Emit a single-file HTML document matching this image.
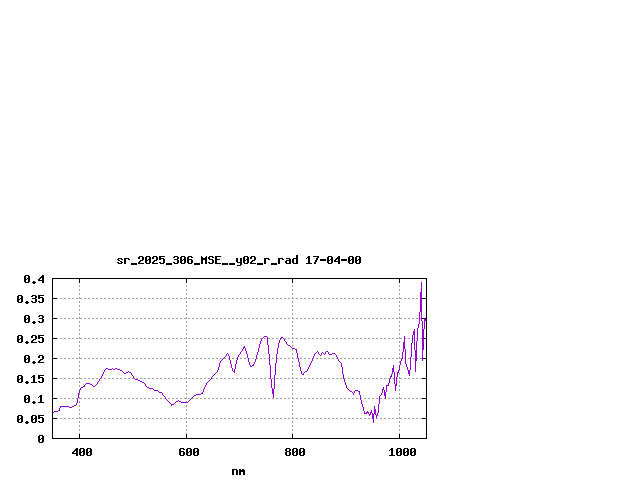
<!DOCTYPE html>
<html lang="en">
<head>
<meta charset="utf-8">
<title>sr_2025_306_MSE__y02_r_rad 17-04-00</title>
<style>
html,body{margin:0;padding:0;background:#fff;}
body{width:640px;height:480px;overflow:hidden;font-family:"Liberation Mono",monospace;}
svg{display:block;position:absolute;left:0;top:0;}
.lbl{font-family:"Liberation Mono",monospace;font-weight:bold;font-size:11.6px;fill:#000;fill-opacity:0;}
</style>
</head>
<body>
<svg width="640" height="480" viewBox="0 0 640 480" shape-rendering="crispEdges" role="img" aria-label="Spectral radiance plot">
<rect x="0" y="0" width="640" height="480" fill="#ffffff"/>
<g id="grid" stroke="#a0a0a0" stroke-width="1" stroke-dasharray="2 2" fill="none">
<line x1="52" y1="298.5" x2="427" y2="298.5"/>
<line x1="52" y1="318.5" x2="427" y2="318.5"/>
<line x1="52" y1="338.5" x2="427" y2="338.5"/>
<line x1="52" y1="358.5" x2="427" y2="358.5"/>
<line x1="52" y1="378.5" x2="427" y2="378.5"/>
<line x1="52" y1="398.5" x2="427" y2="398.5"/>
<line x1="52" y1="418.5" x2="427" y2="418.5"/>
<line x1="79.5" y1="439" x2="79.5" y2="278"/>
<line x1="186.5" y1="439" x2="186.5" y2="278"/>
<line x1="292.5" y1="439" x2="292.5" y2="278"/>
<line x1="399.5" y1="439" x2="399.5" y2="278"/>
</g>
<g id="axes" fill="#000000">
<path d="M52 278h375v161h-375z M53 279v159h373v-159z" fill-rule="evenodd"/>
<path d="M53 278h4v1h-4zM422 278h4v1h-4zM53 298h4v1h-4zM422 298h4v1h-4zM53 318h4v1h-4zM422 318h4v1h-4zM53 338h4v1h-4zM422 338h4v1h-4zM53 358h4v1h-4zM422 358h4v1h-4zM53 378h4v1h-4zM422 378h4v1h-4zM53 398h4v1h-4zM422 398h4v1h-4zM53 418h4v1h-4zM422 418h4v1h-4zM53 438h4v1h-4zM422 438h4v1h-4zM79 434h1v4h-1zM79 279h1v4h-1zM186 434h1v4h-1zM186 279h1v4h-1zM292 434h1v4h-1zM292 279h1v4h-1zM399 434h1v4h-1zM399 279h1v4h-1z"/>
</g>
<path id="curve" fill="#9400d3" d="M53 412h1v1h-1zM54 411h4v1h-4zM58 410h1v1h-1zM59 408h1v3h-1zM60 406h1v2h-1zM61 406h8v1h-8zM69 407h3v1h-3zM72 406h2v1h-2zM74 405h2v1h-2zM76 403h1v2h-1zM77 398h1v5h-1zM78 393h1v5h-1zM79 390h1v3h-1zM80 388h1v2h-1zM81 387h2v1h-2zM83 386h1v1h-1zM84 385h1v2h-1zM85 384h1v1h-1zM86 383h4v1h-4zM90 384h2v1h-2zM92 385h1v1h-1zM93 386h2v1h-2zM95 385h1v1h-1zM96 384h1v1h-1zM97 382h1v2h-1zM98 381h1v1h-1zM99 379h1v2h-1zM100 378h1v1h-1zM101 376h1v2h-1zM102 374h1v2h-1zM103 372h1v2h-1zM104 370h1v2h-1zM105 369h1v1h-1zM106 368h2v1h-2zM108 369h4v1h-4zM112 368h1v1h-1zM113 369h2v1h-2zM115 368h2v1h-2zM117 369h3v1h-3zM120 370h2v1h-2zM122 371h1v1h-1zM123 372h1v1h-1zM124 373h2v1h-2zM126 372h2v1h-2zM128 371h1v1h-1zM129 372h2v1h-2zM131 373h1v2h-1zM132 375h1v1h-1zM133 376h1v2h-1zM134 378h1v1h-1zM135 379h3v1h-3zM138 380h2v1h-2zM140 381h2v1h-2zM142 382h2v1h-2zM144 383h1v1h-1zM145 384h1v2h-1zM146 386h1v1h-1zM147 387h2v1h-2zM149 388h4v1h-4zM153 389h1v1h-1zM154 390h4v1h-4zM158 391h1v1h-1zM159 392h3v1h-3zM162 393h1v2h-1zM163 395h1v1h-1zM164 396h1v1h-1zM165 397h1v2h-1zM166 399h1v1h-1zM167 400h1v1h-1zM168 401h1v1h-1zM169 402h1v1h-1zM170 403h1v1h-1zM171 404h1v2h-1zM172 404h2v1h-2zM174 403h1v1h-1zM175 402h1v1h-1zM176 401h2v1h-2zM178 400h1v1h-1zM179 401h2v1h-2zM181 402h7v1h-7zM188 401h1v1h-1zM189 400h1v1h-1zM190 399h1v1h-1zM191 398h1v1h-1zM192 397h1v1h-1zM193 396h1v1h-1zM194 395h2v1h-2zM196 394h5v1h-5zM201 393h1v1h-1zM202 392h1v2h-1zM203 389h1v3h-1zM204 387h1v2h-1zM205 385h1v2h-1zM206 383h1v2h-1zM207 382h1v1h-1zM208 381h1v1h-1zM209 380h1v1h-1zM210 379h1v1h-1zM211 377h1v2h-1zM212 376h1v1h-1zM213 375h1v1h-1zM214 374h1v1h-1zM215 373h1v1h-1zM216 372h1v1h-1zM217 370h1v2h-1zM218 367h1v3h-1zM219 363h1v4h-1zM220 361h1v2h-1zM221 360h1v1h-1zM222 359h1v1h-1zM223 358h1v1h-1zM224 357h1v1h-1zM225 356h1v1h-1zM226 354h1v2h-1zM227 353h1v1h-1zM228 354h1v2h-1zM229 356h1v4h-1zM230 360h1v4h-1zM231 364h1v4h-1zM232 368h1v3h-1zM233 371h1v1h-1zM234 369h1v4h-1zM235 364h1v5h-1zM236 360h1v4h-1zM237 357h1v3h-1zM238 355h1v2h-1zM239 354h1v1h-1zM240 352h1v2h-1zM241 351h1v1h-1zM242 349h1v2h-1zM243 347h1v2h-1zM244 346h1v2h-1zM245 348h1v3h-1zM246 351h1v3h-1zM247 354h1v4h-1zM248 358h1v4h-1zM249 362h1v3h-1zM250 365h1v2h-1zM251 366h1v1h-1zM252 365h1v1h-1zM253 364h1v2h-1zM254 362h1v2h-1zM255 359h1v3h-1zM256 355h1v4h-1zM257 352h1v3h-1zM258 348h1v4h-1zM259 344h1v4h-1zM260 341h1v3h-1zM261 339h1v2h-1zM262 338h1v1h-1zM263 337h1v1h-1zM264 336h3v1h-3zM267 337h1v8h-1zM268 345h1v9h-1zM269 354h1v11h-1zM270 365h1v14h-1zM271 379h1v9h-1zM272 388h1v6h-1zM273 389h1v9h-1zM274 375h1v14h-1zM275 363h1v12h-1zM276 354h1v9h-1zM277 348h1v6h-1zM278 343h1v5h-1zM279 340h1v3h-1zM280 338h1v2h-1zM281 337h2v1h-2zM283 338h1v1h-1zM284 339h1v2h-1zM285 341h1v1h-1zM286 342h1v2h-1zM287 344h1v1h-1zM288 345h2v1h-2zM290 346h1v1h-1zM291 347h1v1h-1zM292 348h3v1h-3zM295 349h1v1h-1zM296 349h1v4h-1zM297 353h1v5h-1zM298 358h1v4h-1zM299 362h1v5h-1zM300 367h1v4h-1zM301 371h1v3h-1zM302 374h1v1h-1zM303 373h1v2h-1zM304 372h1v1h-1zM305 371h2v1h-2zM307 369h1v2h-1zM308 367h1v2h-1zM309 365h1v2h-1zM310 363h1v2h-1zM311 361h1v2h-1zM312 358h1v3h-1zM313 356h1v2h-1zM314 354h1v2h-1zM315 353h1v1h-1zM316 352h1v1h-1zM317 351h1v1h-1zM318 352h1v2h-1zM319 354h1v1h-1zM320 355h1v1h-1zM321 353h1v2h-1zM322 352h1v1h-1zM323 353h1v1h-1zM324 354h1v1h-1zM325 352h1v2h-1zM326 351h2v1h-2zM328 352h1v2h-1zM329 354h3v1h-3zM332 353h3v1h-3zM335 354h1v1h-1zM336 355h1v2h-1zM337 357h1v2h-1zM338 359h1v2h-1zM339 361h1v1h-1zM340 362h1v1h-1zM341 363h1v4h-1zM342 367h1v7h-1zM343 374h1v5h-1zM344 379h1v3h-1zM345 382h1v3h-1zM346 385h1v3h-1zM347 388h1v1h-1zM348 389h1v1h-1zM349 390h1v1h-1zM350 391h2v1h-2zM352 392h1v1h-1zM353 393h1v2h-1zM354 391h1v2h-1zM355 390h3v1h-3zM358 391h1v1h-1zM359 391h1v4h-1zM360 395h1v5h-1zM361 400h1v4h-1zM362 404h1v3h-1zM363 407h1v4h-1zM364 411h1v3h-1zM365 413h1v1h-1zM366 412h1v2h-1zM367 411h1v2h-1zM368 412h1v2h-1zM369 414h1v2h-1zM370 412h1v3h-1zM371 410h1v3h-1zM372 413h1v6h-1zM373 414h1v9h-1zM374 406h1v8h-1zM375 409h1v6h-1zM376 415h1v3h-1zM377 413h1v3h-1zM378 404h1v9h-1zM379 396h1v8h-1zM380 395h1v1h-1zM381 393h1v2h-1zM382 389h1v4h-1zM383 387h1v3h-1zM384 390h1v6h-1zM385 392h1v7h-1zM386 385h1v7h-1zM387 385h1v1h-1zM388 383h1v3h-1zM389 379h1v4h-1zM390 376h1v3h-1zM391 374h1v3h-1zM392 368h1v6h-1zM393 365h1v7h-1zM394 372h1v12h-1zM395 384h1v7h-1zM396 377h1v9h-1zM397 372h1v5h-1zM398 370h1v3h-1zM399 365h1v5h-1zM400 361h1v4h-1zM401 359h1v2h-1zM402 352h1v7h-1zM403 342h1v10h-1zM404 336h1v13h-1zM405 349h1v15h-1zM406 364h1v3h-1zM407 367h1v3h-1zM408 370h1v4h-1zM409 370h1v6h-1zM410 357h1v13h-1zM411 343h1v14h-1zM412 335h1v8h-1zM413 331h1v4h-1zM414 329h1v21h-1zM415 350h1v22h-1zM416 341h1v20h-1zM417 328h1v13h-1zM418 324h1v4h-1zM419 312h1v12h-1zM420 292h1v20h-1zM421 282h1v39h-1zM422 321h1v40h-1zM423 329h1v21h-1zM424 318h1v11h-1zM425 319h1v2h-1z"/>
<g id="labels" fill="#000000">
<path d="M118 258h4v1h-4zM117 259h2v1h-2zM121 259h2v1h-2zM118 260h2v1h-2zM120 261h2v1h-2zM117 262h2v1h-2zM121 262h2v1h-2zM118 263h4v1h-4zM124 258h5v1h-5zM124 259h2v1h-2zM128 259h2v1h-2zM124 260h2v1h-2zM124 261h2v1h-2zM124 262h2v1h-2zM124 263h2v1h-2zM131 263h6v1h-6zM131 264h6v1h-6zM139 256h4v1h-4zM138 257h2v1h-2zM142 257h2v1h-2zM138 258h2v1h-2zM142 258h2v1h-2zM142 259h2v1h-2zM140 260h3v1h-3zM139 261h2v1h-2zM138 262h2v1h-2zM138 263h6v1h-6zM146 256h4v1h-4zM145 257h2v1h-2zM149 257h2v1h-2zM145 258h2v1h-2zM149 258h2v1h-2zM145 259h2v1h-2zM148 259h3v1h-3zM145 260h3v1h-3zM149 260h2v1h-2zM145 261h2v1h-2zM149 261h2v1h-2zM145 262h2v1h-2zM149 262h2v1h-2zM146 263h4v1h-4zM153 256h4v1h-4zM152 257h2v1h-2zM156 257h2v1h-2zM152 258h2v1h-2zM156 258h2v1h-2zM156 259h2v1h-2zM154 260h3v1h-3zM153 261h2v1h-2zM152 262h2v1h-2zM152 263h6v1h-6zM159 256h6v1h-6zM159 257h2v1h-2zM159 258h5v1h-5zM159 259h2v1h-2zM163 259h2v1h-2zM163 260h2v1h-2zM163 261h2v1h-2zM159 262h2v1h-2zM163 262h2v1h-2zM160 263h4v1h-4zM166 263h6v1h-6zM166 264h6v1h-6zM174 256h4v1h-4zM173 257h2v1h-2zM177 257h2v1h-2zM177 258h2v1h-2zM174 259h4v1h-4zM177 260h2v1h-2zM177 261h2v1h-2zM173 262h2v1h-2zM177 262h2v1h-2zM174 263h4v1h-4zM181 256h4v1h-4zM180 257h2v1h-2zM184 257h2v1h-2zM180 258h2v1h-2zM184 258h2v1h-2zM180 259h2v1h-2zM183 259h3v1h-3zM180 260h3v1h-3zM184 260h2v1h-2zM180 261h2v1h-2zM184 261h2v1h-2zM180 262h2v1h-2zM184 262h2v1h-2zM181 263h4v1h-4zM188 256h4v1h-4zM187 257h2v1h-2zM191 257h2v1h-2zM187 258h2v1h-2zM187 259h5v1h-5zM187 260h2v1h-2zM191 260h2v1h-2zM187 261h2v1h-2zM191 261h2v1h-2zM187 262h2v1h-2zM191 262h2v1h-2zM188 263h4v1h-4zM194 263h6v1h-6zM194 264h6v1h-6zM201 256h1v1h-1zM206 256h1v1h-1zM201 257h2v1h-2zM205 257h2v1h-2zM201 258h6v1h-6zM201 259h6v1h-6zM201 260h2v1h-2zM205 260h2v1h-2zM201 261h2v1h-2zM205 261h2v1h-2zM201 262h2v1h-2zM205 262h2v1h-2zM201 263h2v1h-2zM205 263h2v1h-2zM209 256h4v1h-4zM208 257h2v1h-2zM212 257h2v1h-2zM208 258h2v1h-2zM209 259h4v1h-4zM212 260h2v1h-2zM212 261h2v1h-2zM208 262h2v1h-2zM212 262h2v1h-2zM209 263h4v1h-4zM215 256h6v1h-6zM215 257h2v1h-2zM215 258h2v1h-2zM215 259h5v1h-5zM215 260h2v1h-2zM215 261h2v1h-2zM215 262h2v1h-2zM215 263h6v1h-6zM222 263h6v1h-6zM222 264h6v1h-6zM229 263h6v1h-6zM229 264h6v1h-6zM236 258h2v1h-2zM240 258h2v1h-2zM236 259h2v1h-2zM240 259h2v1h-2zM236 260h2v1h-2zM240 260h2v1h-2zM236 261h2v1h-2zM240 261h2v1h-2zM237 262h5v1h-5zM240 263h2v1h-2zM240 264h2v1h-2zM237 265h4v1h-4zM244 256h4v1h-4zM243 257h2v1h-2zM247 257h2v1h-2zM243 258h2v1h-2zM247 258h2v1h-2zM243 259h2v1h-2zM246 259h3v1h-3zM243 260h3v1h-3zM247 260h2v1h-2zM243 261h2v1h-2zM247 261h2v1h-2zM243 262h2v1h-2zM247 262h2v1h-2zM244 263h4v1h-4zM251 256h4v1h-4zM250 257h2v1h-2zM254 257h2v1h-2zM250 258h2v1h-2zM254 258h2v1h-2zM254 259h2v1h-2zM252 260h3v1h-3zM251 261h2v1h-2zM250 262h2v1h-2zM250 263h6v1h-6zM257 263h6v1h-6zM257 264h6v1h-6zM264 258h5v1h-5zM264 259h2v1h-2zM268 259h2v1h-2zM264 260h2v1h-2zM264 261h2v1h-2zM264 262h2v1h-2zM264 263h2v1h-2zM271 263h6v1h-6zM271 264h6v1h-6zM278 258h5v1h-5zM278 259h2v1h-2zM282 259h2v1h-2zM278 260h2v1h-2zM278 261h2v1h-2zM278 262h2v1h-2zM278 263h2v1h-2zM286 258h4v1h-4zM289 259h2v1h-2zM286 260h5v1h-5zM285 261h2v1h-2zM289 261h2v1h-2zM285 262h2v1h-2zM289 262h2v1h-2zM286 263h5v1h-5zM296 255h2v1h-2zM296 256h2v1h-2zM296 257h2v1h-2zM293 258h5v1h-5zM292 259h2v1h-2zM296 259h2v1h-2zM292 260h2v1h-2zM296 260h2v1h-2zM292 261h2v1h-2zM296 261h2v1h-2zM292 262h2v1h-2zM296 262h2v1h-2zM293 263h5v1h-5zM308 256h2v1h-2zM307 257h3v1h-3zM306 258h1v1h-1zM308 258h2v1h-2zM308 259h2v1h-2zM308 260h2v1h-2zM308 261h2v1h-2zM308 262h2v1h-2zM306 263h6v1h-6zM313 256h6v1h-6zM317 257h2v1h-2zM316 258h2v1h-2zM316 259h2v1h-2zM315 260h2v1h-2zM315 261h2v1h-2zM314 262h2v1h-2zM314 263h2v1h-2zM320 259h6v1h-6zM320 260h6v1h-6zM328 256h4v1h-4zM327 257h2v1h-2zM331 257h2v1h-2zM327 258h2v1h-2zM331 258h2v1h-2zM327 259h2v1h-2zM330 259h3v1h-3zM327 260h3v1h-3zM331 260h2v1h-2zM327 261h2v1h-2zM331 261h2v1h-2zM327 262h2v1h-2zM331 262h2v1h-2zM328 263h4v1h-4zM338 256h2v1h-2zM337 257h3v1h-3zM336 258h4v1h-4zM335 259h2v1h-2zM338 259h2v1h-2zM334 260h2v1h-2zM338 260h2v1h-2zM334 261h6v1h-6zM338 262h2v1h-2zM338 263h2v1h-2zM341 259h6v1h-6zM341 260h6v1h-6zM349 256h4v1h-4zM348 257h2v1h-2zM352 257h2v1h-2zM348 258h2v1h-2zM352 258h2v1h-2zM348 259h2v1h-2zM351 259h3v1h-3zM348 260h3v1h-3zM352 260h2v1h-2zM348 261h2v1h-2zM352 261h2v1h-2zM348 262h2v1h-2zM352 262h2v1h-2zM349 263h4v1h-4zM356 256h4v1h-4zM355 257h2v1h-2zM359 257h2v1h-2zM355 258h2v1h-2zM359 258h2v1h-2zM355 259h2v1h-2zM358 259h3v1h-3zM355 260h3v1h-3zM359 260h2v1h-2zM355 261h2v1h-2zM359 261h2v1h-2zM355 262h2v1h-2zM359 262h2v1h-2zM356 263h4v1h-4z"/>
<text class="lbl" x="117" y="264" xml:space="preserve">sr_2025_306_MSE__y02_r_rad 17-04-00</text>
<path d="M25 275h4v1h-4zM24 276h2v1h-2zM28 276h2v1h-2zM24 277h2v1h-2zM28 277h2v1h-2zM24 278h2v1h-2zM27 278h3v1h-3zM24 279h3v1h-3zM28 279h2v1h-2zM24 280h2v1h-2zM28 280h2v1h-2zM24 281h2v1h-2zM28 281h2v1h-2zM25 282h4v1h-4zM33 281h2v1h-2zM32 282h4v1h-4zM33 283h2v1h-2zM42 275h2v1h-2zM41 276h3v1h-3zM40 277h4v1h-4zM39 278h2v1h-2zM42 278h2v1h-2zM38 279h2v1h-2zM42 279h2v1h-2zM38 280h6v1h-6zM42 281h2v1h-2zM42 282h2v1h-2z"/>
<text class="lbl" x="24" y="283" xml:space="preserve">0.4</text>
<path d="M18 295h4v1h-4zM17 296h2v1h-2zM21 296h2v1h-2zM17 297h2v1h-2zM21 297h2v1h-2zM17 298h2v1h-2zM20 298h3v1h-3zM17 299h3v1h-3zM21 299h2v1h-2zM17 300h2v1h-2zM21 300h2v1h-2zM17 301h2v1h-2zM21 301h2v1h-2zM18 302h4v1h-4zM26 301h2v1h-2zM25 302h4v1h-4zM26 303h2v1h-2zM32 295h4v1h-4zM31 296h2v1h-2zM35 296h2v1h-2zM35 297h2v1h-2zM32 298h4v1h-4zM35 299h2v1h-2zM35 300h2v1h-2zM31 301h2v1h-2zM35 301h2v1h-2zM32 302h4v1h-4zM38 295h6v1h-6zM38 296h2v1h-2zM38 297h5v1h-5zM38 298h2v1h-2zM42 298h2v1h-2zM42 299h2v1h-2zM42 300h2v1h-2zM38 301h2v1h-2zM42 301h2v1h-2zM39 302h4v1h-4z"/>
<text class="lbl" x="17" y="303" xml:space="preserve">0.35</text>
<path d="M25 315h4v1h-4zM24 316h2v1h-2zM28 316h2v1h-2zM24 317h2v1h-2zM28 317h2v1h-2zM24 318h2v1h-2zM27 318h3v1h-3zM24 319h3v1h-3zM28 319h2v1h-2zM24 320h2v1h-2zM28 320h2v1h-2zM24 321h2v1h-2zM28 321h2v1h-2zM25 322h4v1h-4zM33 321h2v1h-2zM32 322h4v1h-4zM33 323h2v1h-2zM39 315h4v1h-4zM38 316h2v1h-2zM42 316h2v1h-2zM42 317h2v1h-2zM39 318h4v1h-4zM42 319h2v1h-2zM42 320h2v1h-2zM38 321h2v1h-2zM42 321h2v1h-2zM39 322h4v1h-4z"/>
<text class="lbl" x="24" y="323" xml:space="preserve">0.3</text>
<path d="M18 335h4v1h-4zM17 336h2v1h-2zM21 336h2v1h-2zM17 337h2v1h-2zM21 337h2v1h-2zM17 338h2v1h-2zM20 338h3v1h-3zM17 339h3v1h-3zM21 339h2v1h-2zM17 340h2v1h-2zM21 340h2v1h-2zM17 341h2v1h-2zM21 341h2v1h-2zM18 342h4v1h-4zM26 341h2v1h-2zM25 342h4v1h-4zM26 343h2v1h-2zM32 335h4v1h-4zM31 336h2v1h-2zM35 336h2v1h-2zM31 337h2v1h-2zM35 337h2v1h-2zM35 338h2v1h-2zM33 339h3v1h-3zM32 340h2v1h-2zM31 341h2v1h-2zM31 342h6v1h-6zM38 335h6v1h-6zM38 336h2v1h-2zM38 337h5v1h-5zM38 338h2v1h-2zM42 338h2v1h-2zM42 339h2v1h-2zM42 340h2v1h-2zM38 341h2v1h-2zM42 341h2v1h-2zM39 342h4v1h-4z"/>
<text class="lbl" x="17" y="343" xml:space="preserve">0.25</text>
<path d="M25 355h4v1h-4zM24 356h2v1h-2zM28 356h2v1h-2zM24 357h2v1h-2zM28 357h2v1h-2zM24 358h2v1h-2zM27 358h3v1h-3zM24 359h3v1h-3zM28 359h2v1h-2zM24 360h2v1h-2zM28 360h2v1h-2zM24 361h2v1h-2zM28 361h2v1h-2zM25 362h4v1h-4zM33 361h2v1h-2zM32 362h4v1h-4zM33 363h2v1h-2zM39 355h4v1h-4zM38 356h2v1h-2zM42 356h2v1h-2zM38 357h2v1h-2zM42 357h2v1h-2zM42 358h2v1h-2zM40 359h3v1h-3zM39 360h2v1h-2zM38 361h2v1h-2zM38 362h6v1h-6z"/>
<text class="lbl" x="24" y="363" xml:space="preserve">0.2</text>
<path d="M18 375h4v1h-4zM17 376h2v1h-2zM21 376h2v1h-2zM17 377h2v1h-2zM21 377h2v1h-2zM17 378h2v1h-2zM20 378h3v1h-3zM17 379h3v1h-3zM21 379h2v1h-2zM17 380h2v1h-2zM21 380h2v1h-2zM17 381h2v1h-2zM21 381h2v1h-2zM18 382h4v1h-4zM26 381h2v1h-2zM25 382h4v1h-4zM26 383h2v1h-2zM33 375h2v1h-2zM32 376h3v1h-3zM31 377h1v1h-1zM33 377h2v1h-2zM33 378h2v1h-2zM33 379h2v1h-2zM33 380h2v1h-2zM33 381h2v1h-2zM31 382h6v1h-6zM38 375h6v1h-6zM38 376h2v1h-2zM38 377h5v1h-5zM38 378h2v1h-2zM42 378h2v1h-2zM42 379h2v1h-2zM42 380h2v1h-2zM38 381h2v1h-2zM42 381h2v1h-2zM39 382h4v1h-4z"/>
<text class="lbl" x="17" y="383" xml:space="preserve">0.15</text>
<path d="M25 395h4v1h-4zM24 396h2v1h-2zM28 396h2v1h-2zM24 397h2v1h-2zM28 397h2v1h-2zM24 398h2v1h-2zM27 398h3v1h-3zM24 399h3v1h-3zM28 399h2v1h-2zM24 400h2v1h-2zM28 400h2v1h-2zM24 401h2v1h-2zM28 401h2v1h-2zM25 402h4v1h-4zM33 401h2v1h-2zM32 402h4v1h-4zM33 403h2v1h-2zM40 395h2v1h-2zM39 396h3v1h-3zM38 397h1v1h-1zM40 397h2v1h-2zM40 398h2v1h-2zM40 399h2v1h-2zM40 400h2v1h-2zM40 401h2v1h-2zM38 402h6v1h-6z"/>
<text class="lbl" x="24" y="403" xml:space="preserve">0.1</text>
<path d="M18 415h4v1h-4zM17 416h2v1h-2zM21 416h2v1h-2zM17 417h2v1h-2zM21 417h2v1h-2zM17 418h2v1h-2zM20 418h3v1h-3zM17 419h3v1h-3zM21 419h2v1h-2zM17 420h2v1h-2zM21 420h2v1h-2zM17 421h2v1h-2zM21 421h2v1h-2zM18 422h4v1h-4zM26 421h2v1h-2zM25 422h4v1h-4zM26 423h2v1h-2zM32 415h4v1h-4zM31 416h2v1h-2zM35 416h2v1h-2zM31 417h2v1h-2zM35 417h2v1h-2zM31 418h2v1h-2zM34 418h3v1h-3zM31 419h3v1h-3zM35 419h2v1h-2zM31 420h2v1h-2zM35 420h2v1h-2zM31 421h2v1h-2zM35 421h2v1h-2zM32 422h4v1h-4zM38 415h6v1h-6zM38 416h2v1h-2zM38 417h5v1h-5zM38 418h2v1h-2zM42 418h2v1h-2zM42 419h2v1h-2zM42 420h2v1h-2zM38 421h2v1h-2zM42 421h2v1h-2zM39 422h4v1h-4z"/>
<text class="lbl" x="17" y="423" xml:space="preserve">0.05</text>
<path d="M39 435h4v1h-4zM38 436h2v1h-2zM42 436h2v1h-2zM38 437h2v1h-2zM42 437h2v1h-2zM38 438h2v1h-2zM41 438h3v1h-3zM38 439h3v1h-3zM42 439h2v1h-2zM38 440h2v1h-2zM42 440h2v1h-2zM38 441h2v1h-2zM42 441h2v1h-2zM39 442h4v1h-4z"/>
<text class="lbl" x="38" y="443" xml:space="preserve">0</text>
<path d="M76 448h2v1h-2zM75 449h3v1h-3zM74 450h4v1h-4zM73 451h2v1h-2zM76 451h2v1h-2zM72 452h2v1h-2zM76 452h2v1h-2zM72 453h6v1h-6zM76 454h2v1h-2zM76 455h2v1h-2zM80 448h4v1h-4zM79 449h2v1h-2zM83 449h2v1h-2zM79 450h2v1h-2zM83 450h2v1h-2zM79 451h2v1h-2zM82 451h3v1h-3zM79 452h3v1h-3zM83 452h2v1h-2zM79 453h2v1h-2zM83 453h2v1h-2zM79 454h2v1h-2zM83 454h2v1h-2zM80 455h4v1h-4zM87 448h4v1h-4zM86 449h2v1h-2zM90 449h2v1h-2zM86 450h2v1h-2zM90 450h2v1h-2zM86 451h2v1h-2zM89 451h3v1h-3zM86 452h3v1h-3zM90 452h2v1h-2zM86 453h2v1h-2zM90 453h2v1h-2zM86 454h2v1h-2zM90 454h2v1h-2zM87 455h4v1h-4z"/>
<text class="lbl" x="72" y="456" xml:space="preserve">400</text>
<path d="M180 448h4v1h-4zM179 449h2v1h-2zM183 449h2v1h-2zM179 450h2v1h-2zM179 451h5v1h-5zM179 452h2v1h-2zM183 452h2v1h-2zM179 453h2v1h-2zM183 453h2v1h-2zM179 454h2v1h-2zM183 454h2v1h-2zM180 455h4v1h-4zM187 448h4v1h-4zM186 449h2v1h-2zM190 449h2v1h-2zM186 450h2v1h-2zM190 450h2v1h-2zM186 451h2v1h-2zM189 451h3v1h-3zM186 452h3v1h-3zM190 452h2v1h-2zM186 453h2v1h-2zM190 453h2v1h-2zM186 454h2v1h-2zM190 454h2v1h-2zM187 455h4v1h-4zM194 448h4v1h-4zM193 449h2v1h-2zM197 449h2v1h-2zM193 450h2v1h-2zM197 450h2v1h-2zM193 451h2v1h-2zM196 451h3v1h-3zM193 452h3v1h-3zM197 452h2v1h-2zM193 453h2v1h-2zM197 453h2v1h-2zM193 454h2v1h-2zM197 454h2v1h-2zM194 455h4v1h-4z"/>
<text class="lbl" x="179" y="456" xml:space="preserve">600</text>
<path d="M286 448h4v1h-4zM285 449h2v1h-2zM289 449h2v1h-2zM285 450h2v1h-2zM289 450h2v1h-2zM286 451h4v1h-4zM285 452h2v1h-2zM289 452h2v1h-2zM285 453h2v1h-2zM289 453h2v1h-2zM285 454h2v1h-2zM289 454h2v1h-2zM286 455h4v1h-4zM293 448h4v1h-4zM292 449h2v1h-2zM296 449h2v1h-2zM292 450h2v1h-2zM296 450h2v1h-2zM292 451h2v1h-2zM295 451h3v1h-3zM292 452h3v1h-3zM296 452h2v1h-2zM292 453h2v1h-2zM296 453h2v1h-2zM292 454h2v1h-2zM296 454h2v1h-2zM293 455h4v1h-4zM300 448h4v1h-4zM299 449h2v1h-2zM303 449h2v1h-2zM299 450h2v1h-2zM303 450h2v1h-2zM299 451h2v1h-2zM302 451h3v1h-3zM299 452h3v1h-3zM303 452h2v1h-2zM299 453h2v1h-2zM303 453h2v1h-2zM299 454h2v1h-2zM303 454h2v1h-2zM300 455h4v1h-4z"/>
<text class="lbl" x="285" y="456" xml:space="preserve">800</text>
<path d="M391 448h2v1h-2zM390 449h3v1h-3zM389 450h1v1h-1zM391 450h2v1h-2zM391 451h2v1h-2zM391 452h2v1h-2zM391 453h2v1h-2zM391 454h2v1h-2zM389 455h6v1h-6zM397 448h4v1h-4zM396 449h2v1h-2zM400 449h2v1h-2zM396 450h2v1h-2zM400 450h2v1h-2zM396 451h2v1h-2zM399 451h3v1h-3zM396 452h3v1h-3zM400 452h2v1h-2zM396 453h2v1h-2zM400 453h2v1h-2zM396 454h2v1h-2zM400 454h2v1h-2zM397 455h4v1h-4zM404 448h4v1h-4zM403 449h2v1h-2zM407 449h2v1h-2zM403 450h2v1h-2zM407 450h2v1h-2zM403 451h2v1h-2zM406 451h3v1h-3zM403 452h3v1h-3zM407 452h2v1h-2zM403 453h2v1h-2zM407 453h2v1h-2zM403 454h2v1h-2zM407 454h2v1h-2zM404 455h4v1h-4zM411 448h4v1h-4zM410 449h2v1h-2zM414 449h2v1h-2zM410 450h2v1h-2zM414 450h2v1h-2zM410 451h2v1h-2zM413 451h3v1h-3zM410 452h3v1h-3zM414 452h2v1h-2zM410 453h2v1h-2zM414 453h2v1h-2zM410 454h2v1h-2zM414 454h2v1h-2zM411 455h4v1h-4z"/>
<text class="lbl" x="389" y="456" xml:space="preserve">1000</text>
<path d="M232 469h5v1h-5zM232 470h2v1h-2zM236 470h2v1h-2zM232 471h2v1h-2zM236 471h2v1h-2zM232 472h2v1h-2zM236 472h2v1h-2zM232 473h2v1h-2zM236 473h2v1h-2zM232 474h2v1h-2zM236 474h2v1h-2zM239 469h2v1h-2zM242 469h2v1h-2zM239 470h6v1h-6zM239 471h6v1h-6zM239 472h2v1h-2zM243 472h2v1h-2zM239 473h2v1h-2zM243 473h2v1h-2zM239 474h2v1h-2zM243 474h2v1h-2z"/>
<text class="lbl" x="232" y="475" xml:space="preserve">nm</text>
</g>
</svg>
</body>
</html>
